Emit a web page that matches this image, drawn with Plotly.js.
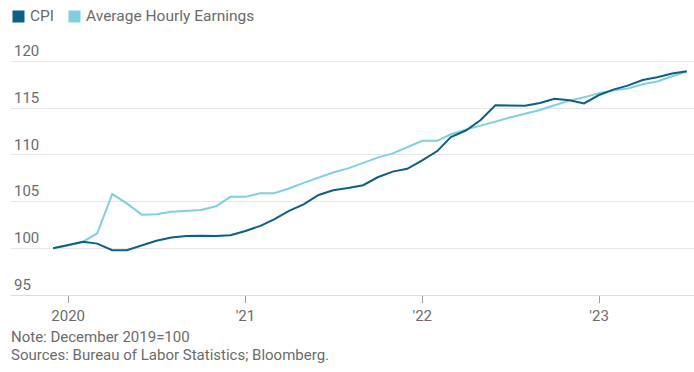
<!DOCTYPE html>
<html>
<head>
<meta charset="utf-8">
<script src="https://cdn.plot.ly/plotly-3.0.1.min.js"></script>
<style>html,body{margin:0;padding:0;background:#fff;}#chart{width:694px;height:372px;}</style>
</head>
<body>
<div id="chart"></div>
<script>
// Monthly, Dec 2019 .. Jul 2023
var startYear = 2019, startMonth = 12, nMonths = 44;
var cpi = [100.0,100.35,100.7,100.5,99.8,99.8,100.35,100.8,101.15,101.3,101.35,101.3,
  101.4,101.85,102.4,103.1,104.0,104.7,105.7,106.2,106.45,106.75,107.6,108.2,
  108.5,109.4,110.4,111.9,112.6,113.7,115.3,115.3,115.25,115.55,116.0,115.85,
  115.5,116.4,117.0,117.4,118.0,118.3,118.7,118.95];
var ahe = [100.0,100.3,100.7,101.6,105.8,104.8,103.6,103.65,103.9,104.0,104.1,104.5,
  105.5,105.5,105.9,105.9,106.4,107.0,107.6,108.1,108.55,109.1,109.7,110.15,
  110.8,111.5,111.5,112.2,112.7,113.1,113.55,114.0,114.4,114.8,115.3,115.8,
  116.15,116.6,116.9,117.1,117.55,117.85,118.4,118.9];
var seriesNames = ['CPI','Average Hourly Earnings'];
var seriesColors = ['#0c5f86','#7fcfe0'];
var xTickVals = ['2020-01-01','2021-01-01','2022-01-01','2023-01-01'];
var xTickText = ['2020',"'21","'22","'23"];
var yTickVals = [95,100,105,110,115,120];
var noteText = 'Note: December 2019=100';
var sourceText = 'Sources: Bureau of Labor Statistics; Bloomberg.';

var dates = [];
for (var i = 0; i < nMonths; i++) {
  var m = startMonth - 1 + i;
  var y = startYear + Math.floor(m / 12);
  var mm = (m % 12) + 1;
  dates.push(y + '-' + (mm < 10 ? '0' + mm : mm) + '-01');
}

var font = 'Roboto, "Liberation Sans", sans-serif';
var txtColor = '#6b6b6b';

var traces = [
  {x: dates, y: ahe, type: 'scatter', mode: 'lines', name: seriesNames[1],
   line: {color: seriesColors[1], width: 2}, showlegend: false, hoverinfo: 'skip'},
  {x: dates, y: cpi, type: 'scatter', mode: 'lines', name: seriesNames[0],
   line: {color: seriesColors[0], width: 2}, showlegend: false, hoverinfo: 'skip'}
];

// 95 at y=295, 120 at y=61 -> 9.36 px per unit; range top 122.5
var pxPerUnit = (295 - 61) / 25;
var yTop = 122.5;
var L = 11, B = 295;
var T = Math.round(61 - (yTop - 120) * pxPerUnit);
var W = 694 - L, H = B - T;
function px(xp){ return (xp - L) / W; }
function py(yp){ return (B - yp) / H; }

var annotations = [
  {xref:'paper', yref:'paper', x: px(12), y: py(16), xanchor:'left', yanchor:'middle',
   text:' ', width: 11, height: 11, bgcolor: seriesColors[0], showarrow:false, borderpad:0},
  {xref:'paper', yref:'paper', x: px(28), y: py(16), xanchor:'left', yanchor:'middle',
   text: seriesNames[0], showarrow:false, font:{family:font, size:15.5, color:txtColor}},
  {xref:'paper', yref:'paper', x: px(68), y: py(16), xanchor:'left', yanchor:'middle',
   text:' ', width: 11, height: 11, bgcolor: seriesColors[1], showarrow:false, borderpad:0},
  {xref:'paper', yref:'paper', x: px(84), y: py(16), xanchor:'left', yanchor:'middle',
   text: seriesNames[1], showarrow:false, font:{family:font, size:15.5, color:txtColor}},
  {xref:'paper', yref:'paper', x: px(9), y: py(337), xanchor:'left', yanchor:'middle',
   text: noteText, showarrow:false, font:{family:font, size:15, color:txtColor}},
  {xref:'paper', yref:'paper', x: px(9), y: py(355), xanchor:'left', yanchor:'middle',
   text: sourceText, showarrow:false, font:{family:font, size:15, color:txtColor}}
];

var layout = {
  width: 694, height: 372,
  margin: {l: L, r: 0, t: T, b: 372 - B, pad: 0},
  paper_bgcolor: '#fff', plot_bgcolor: '#fff',
  font: {family: font, size: 15, color: txtColor},
  showlegend: false,
  xaxis: {
    type: 'date', range: ['2019-09-05', '2023-07-16'],
    tickvals: xTickVals, ticktext: xTickText,
    ticks: 'outside', ticklen: 7, tickcolor: '#a0a0a0', tickwidth: 1,
    showline: true, linecolor: '#dcdcdc', linewidth: 1,
    showgrid: false, zeroline: false,
    tickfont: {family: font, size: 15, color: txtColor}
  },
  yaxis: {
    range: [95, yTop], tickvals: yTickVals,
    ticklabelposition: 'inside top',
    showgrid: true, gridcolor: '#e6e6e6', gridwidth: 1,
    zeroline: false, showline: false, ticks: '',
    tickfont: {family: font, size: 15, color: txtColor}
  },
  annotations: annotations
};

Plotly.newPlot('chart', traces, layout, {staticPlot: true, displayModeBar: false});
</script>
</body>
</html>
